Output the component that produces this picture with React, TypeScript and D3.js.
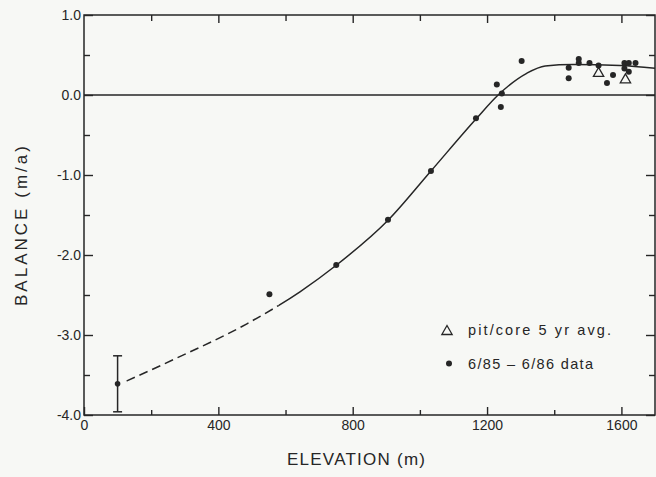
import React, { useEffect, useRef } from 'react';
import * as d3 from 'd3';

const W = 656;
const H = 477;
const PLOT = { left: 84, right: 655, top: 15, bottom: 415 };

// Axis ticks
const elevTicks = [0, 400, 800, 1200, 1600];
const elevMinor = [200, 600, 1000, 1400];
const balTicks = [1, 0, -1, -2, -3, -4];
const balMinor = [0.5, -0.5, -1.5, -2.5, -3.5];

// 6/85 - 6/86 stake measurements
const obsElev = [552, 751, 905, 1033, 1167, 1229, 1244, 1241, 1303, 1443, 1443, 1473, 1473, 1505, 1532, 1557, 1575, 1609, 1622, 1609, 1622, 1642];
const obsBal = [-2.49, -2.125, -1.56, -0.95, -0.29, 0.13, 0.02, -0.15, 0.425, 0.34, 0.21, 0.45, 0.4, 0.4, 0.37, 0.15, 0.25, 0.4, 0.4, 0.33, 0.29, 0.4];

// pit/core 5 yr averages
const pitElev = [1532, 1612];
const pitBal = [0.27, 0.19];

// terminus estimate with range
const baseElev = [100];
const baseBal = [-3.61];
const baseLow = [-3.96];
const baseHigh = [-3.26];

// fitted balance curve (dashed below dashedUntil)
const fitElev = [127, 265, 485, 643, 752, 906, 1033, 1167, 1233, 1318, 1373, 1456, 1596, 1700];
const fitBal = [-3.575, -3.31, -2.86, -2.46, -2.125, -1.5625, -0.95, -0.3, 0.0, 0.271, 0.3625, 0.381, 0.369, 0.334];
const dashedUntil = 580;

const INK = '#262626';
const FONT = '"Liberation Sans", Arial, Helvetica, sans-serif';

export default function App() {
  const axesRef = useRef<SVGGElement | null>(null);

  const x = d3.scaleLinear().domain([0, 1700]).range([PLOT.left, PLOT.right]);
  const y = d3.scaleLinear().domain([-4, 1]).range([PLOT.bottom, PLOT.top]);

  useEffect(() => {
    const g = d3.select(axesRef.current);
    g.selectAll('*').remove();
    const fmt = (d: d3.NumberValue) => (+d).toFixed(1);

    const style = (sel: d3.Selection<SVGGElement, unknown, null, undefined>) => {
      sel.select('.domain').remove();
      sel.selectAll('line').attr('stroke', INK).attr('stroke-width', 1.4);
      sel.selectAll('text').attr('fill', INK).attr('font-family', FONT).attr('font-size', 14);
    };

    g.append('g').attr('transform', `translate(0,${PLOT.bottom})`)
      .call(d3.axisBottom(x).tickValues(elevTicks).tickSize(-8).tickSizeOuter(0).tickPadding(5).tickFormat(d3.format('d')))
      .call(style);
    g.append('g').attr('transform', `translate(0,${PLOT.bottom})`)
      .call(d3.axisBottom(x).tickValues(elevMinor).tickSize(-5).tickSizeOuter(0).tickFormat(() => ''))
      .call(style);
    g.append('g').attr('transform', `translate(0,${PLOT.top})`)
      .call(d3.axisTop(x).tickValues(elevTicks.slice(1)).tickSize(-8).tickSizeOuter(0).tickFormat(() => ''))
      .call(style);
    g.append('g').attr('transform', `translate(0,${PLOT.top})`)
      .call(d3.axisTop(x).tickValues(elevMinor).tickSize(-6).tickSizeOuter(0).tickFormat(() => ''))
      .call(style);
    g.append('g').attr('transform', `translate(${PLOT.left},0)`)
      .call(d3.axisLeft(y).tickValues(balTicks).tickSize(-9).tickSizeOuter(0).tickPadding(3).tickFormat(fmt))
      .call(style);
    g.append('g').attr('transform', `translate(${PLOT.left},0)`)
      .call(d3.axisLeft(y).tickValues(balMinor).tickSize(-6).tickSizeOuter(0).tickFormat(() => ''))
      .call(style);
    g.append('g').attr('transform', `translate(${PLOT.right},0)`)
      .call(d3.axisRight(y).tickValues(balTicks).tickSize(-9).tickSizeOuter(0).tickFormat(() => ''))
      .call(style);
    g.append('g').attr('transform', `translate(${PLOT.right},0)`)
      .call(d3.axisRight(y).tickValues(balMinor).tickSize(-6).tickSizeOuter(0).tickFormat(() => ''))
      .call(style);
  }, []);

  const fitPts = fitElev.map((e, i) => [e, fitBal[i]] as [number, number]);
  const line = d3.line<[number, number]>()
    .x((d) => x(d[0]))
    .y((d) => y(d[1]))
    .curve(d3.curveMonotoneX);
  const fitPath = line(fitPts) || '';
  const split = x(dashedUntil);

  const tri = d3.symbol().type(d3.symbolTriangle).size(46)() || '';

  return (
    <svg width={W} height={H} style={{ position: 'absolute', left: 0, top: 0, background: '#f7f8f5' }}>
      <defs>
        <clipPath id="dashClip"><rect x={0} y={0} width={split} height={H} /></clipPath>
        <clipPath id="solidClip"><rect x={split} y={0} width={W - split} height={H} /></clipPath>
      </defs>
      <rect x={0} y={0} width={W} height={H} fill="#f7f8f5" />

      {/* frame */}
      <rect x={PLOT.left} y={PLOT.top} width={PLOT.right - PLOT.left} height={PLOT.bottom - PLOT.top}
        fill="none" stroke={INK} strokeWidth={1.5} />
      {/* zero balance line */}
      <line x1={PLOT.left} x2={PLOT.right} y1={y(0)} y2={y(0)} stroke={INK} strokeWidth={1.4} />

      <g ref={axesRef} />

      {/* fitted curve */}
      <path d={fitPath} fill="none" stroke={INK} strokeWidth={1.5} strokeDasharray="9,5" clipPath="url(#dashClip)" />
      <path d={fitPath} fill="none" stroke={INK} strokeWidth={1.5} clipPath="url(#solidClip)" />

      {/* terminus estimate */}
      {baseElev.map((e, i) => (
        <g key={`b${i}`} stroke={INK} strokeWidth={1.5}>
          <line x1={x(e)} x2={x(e)} y1={y(baseLow[i])} y2={y(baseHigh[i])} />
          <line x1={x(e) - 4.5} x2={x(e) + 4.5} y1={y(baseLow[i])} y2={y(baseLow[i])} />
          <line x1={x(e) - 4.5} x2={x(e) + 4.5} y1={y(baseHigh[i])} y2={y(baseHigh[i])} />
          <circle cx={x(e)} cy={y(baseBal[i])} r={2.8} fill={INK} stroke="none" />
        </g>
      ))}

      {/* pit/core averages */}
      {pitElev.map((e, i) => (
        <path key={`p${i}`} d={tri} transform={`translate(${x(e)},${y(pitBal[i])})`}
          fill="#f7f8f5" stroke={INK} strokeWidth={1.3} />
      ))}

      {/* stake data */}
      {obsElev.map((e, i) => (
        <circle key={`o${i}`} cx={x(e)} cy={y(obsBal[i])} r={3} fill={INK} />
      ))}

      {/* legend */}
      <path d={tri} transform="translate(447,331.5)" fill="none" stroke={INK} strokeWidth={1.3} />
      <text x={468} y={335} fontFamily={FONT} fontSize={14.5} fill={INK} textLength={143} lengthAdjust="spacing">pit/core 5 yr  avg.</text>
      <circle cx={449} cy={363.5} r={3} fill={INK} />
      <text x={468} y={369} fontFamily={FONT} fontSize={14.5} fill={INK} textLength={125} lengthAdjust="spacing">6/85 – 6/86 data</text>

      {/* axis titles */}
      <text x={356} y={465} textAnchor="middle" fontFamily={FONT} fontSize={17} fill={INK} textLength={138} lengthAdjust="spacing">ELEVATION (m)</text>
      <text transform="translate(27,226) rotate(-90)" textAnchor="middle" fontFamily={FONT} fontSize={17} fill={INK} textLength={160} lengthAdjust="spacing">BALANCE (m/a)</text>
    </svg>
  );
}
